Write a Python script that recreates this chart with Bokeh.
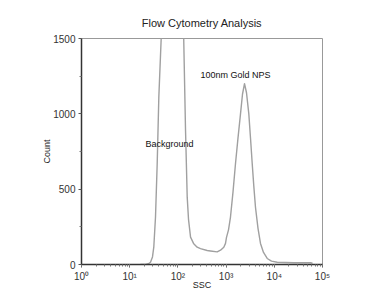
from bokeh.plotting import figure
from bokeh.models import ColumnDataSource, LogTicker, FixedTicker, Label
from bokeh.embed import file_html
from bokeh.resources import INLINE

# SSC (side scatter) values and event counts
ssc = [16.7, 21.3, 24.5, 27, 29.7, 31.6, 34.3, 37.2, 40.2, 45, 60, 77, 100, 132,
       144, 156, 166, 183, 211, 251, 294, 405, 474, 654, 766, 896, 972, 1019,
       1122, 1233, 1390, 1567, 1766, 1990, 2188, 2410, 2650, 2960, 3208, 3480,
       3757, 4070, 4590, 5170, 5970, 7130, 8750, 11500, 25000, 56400, 62000]
count = [0, 1, 5, 15, 50, 115, 315, 670, 1110, 1500, 2600, 3200, 2600, 1500,
         890, 447, 300, 182, 140, 115, 105, 93, 90, 84, 95, 115, 140, 180,
         230, 315, 480, 670, 840, 1000, 1130, 1200, 1140, 1000, 840, 670,
         520, 380, 240, 140, 80, 40, 22, 15, 12, 12, 8]

x_ticks = [1, 10, 100, 1000, 10000, 100000]
x_tick_labels = ["10⁰", "10¹", "10²", "10³", "10⁴", "10⁵"]
y_ticks = [0, 500, 1000, 1500]

annot_text = ["Background", "100nm Gold NPS"]
annot_x = [21.3, 294]
annot_y = [803, 1261]

FONT = "Liberation Sans"

p = figure(width=380, height=300, x_axis_type="log",
           x_range=(1, 100000), y_range=(0, 1500),
           output_backend="svg", toolbar_location=None,
           min_border_left=81, min_border_right=58,
           min_border_top=38, min_border_bottom=36,
           title="Flow Cytometry Analysis")

p.title.text_font = FONT
p.title.text_font_size = "11px"
p.title.text_font_style = "normal"
p.title.text_color = "#222222"
p.title.align = "center"
p.title.offset = 0
p.title.standoff = 20

p.grid.visible = False
p.background_fill_color = "white"
p.outline_line_color = "#999999"
p.outline_line_width = 1

src = ColumnDataSource(dict(x=ssc, y=count))
p.line("x", "y", source=src, line_color="#a0a0a0", line_width=1.4,
       line_join="round")

for t, xx, yy in zip(annot_text, annot_x, annot_y):
    p.add_layout(Label(x=xx, y=yy, text=t, text_font=FONT, text_font_size="9px",
                       text_color="#111111", text_baseline="middle", text_align="left"))

xa = p.xaxis[0]
xa.ticker = LogTicker(desired_num_ticks=6, num_minor_ticks=10)
xa.major_label_overrides = {v: s for v, s in zip(x_ticks, x_tick_labels)}
xa.axis_label = "SSC"
ya = p.yaxis[0]
ya.ticker = FixedTicker(ticks=y_ticks, minor_ticks=[250, 750, 1250])
ya.axis_label = "Count"

for ax in (xa, ya):
    ax.axis_line_color = "#333333"
    ax.axis_line_width = 1.5
    ax.major_tick_line_color = "#555555"
    ax.minor_tick_line_color = "#777777"
    ax.major_tick_out = 3
    ax.major_tick_in = 0
    ax.minor_tick_out = 2
    ax.minor_tick_in = 0
    ax.major_label_text_font = FONT
    ax.major_label_text_font_size = "10px"
    ax.major_label_text_color = "#333333"
    ax.axis_label_text_font = FONT
    ax.axis_label_text_font_size = "9px"
    ax.axis_label_text_font_style = "normal"
    ax.axis_label_text_color = "#222222"
    ax.major_label_standoff = 3

xa.axis_label_standoff = -5
ya.axis_label_standoff = -2

open("out.html", "w").write(file_html(p, INLINE))
